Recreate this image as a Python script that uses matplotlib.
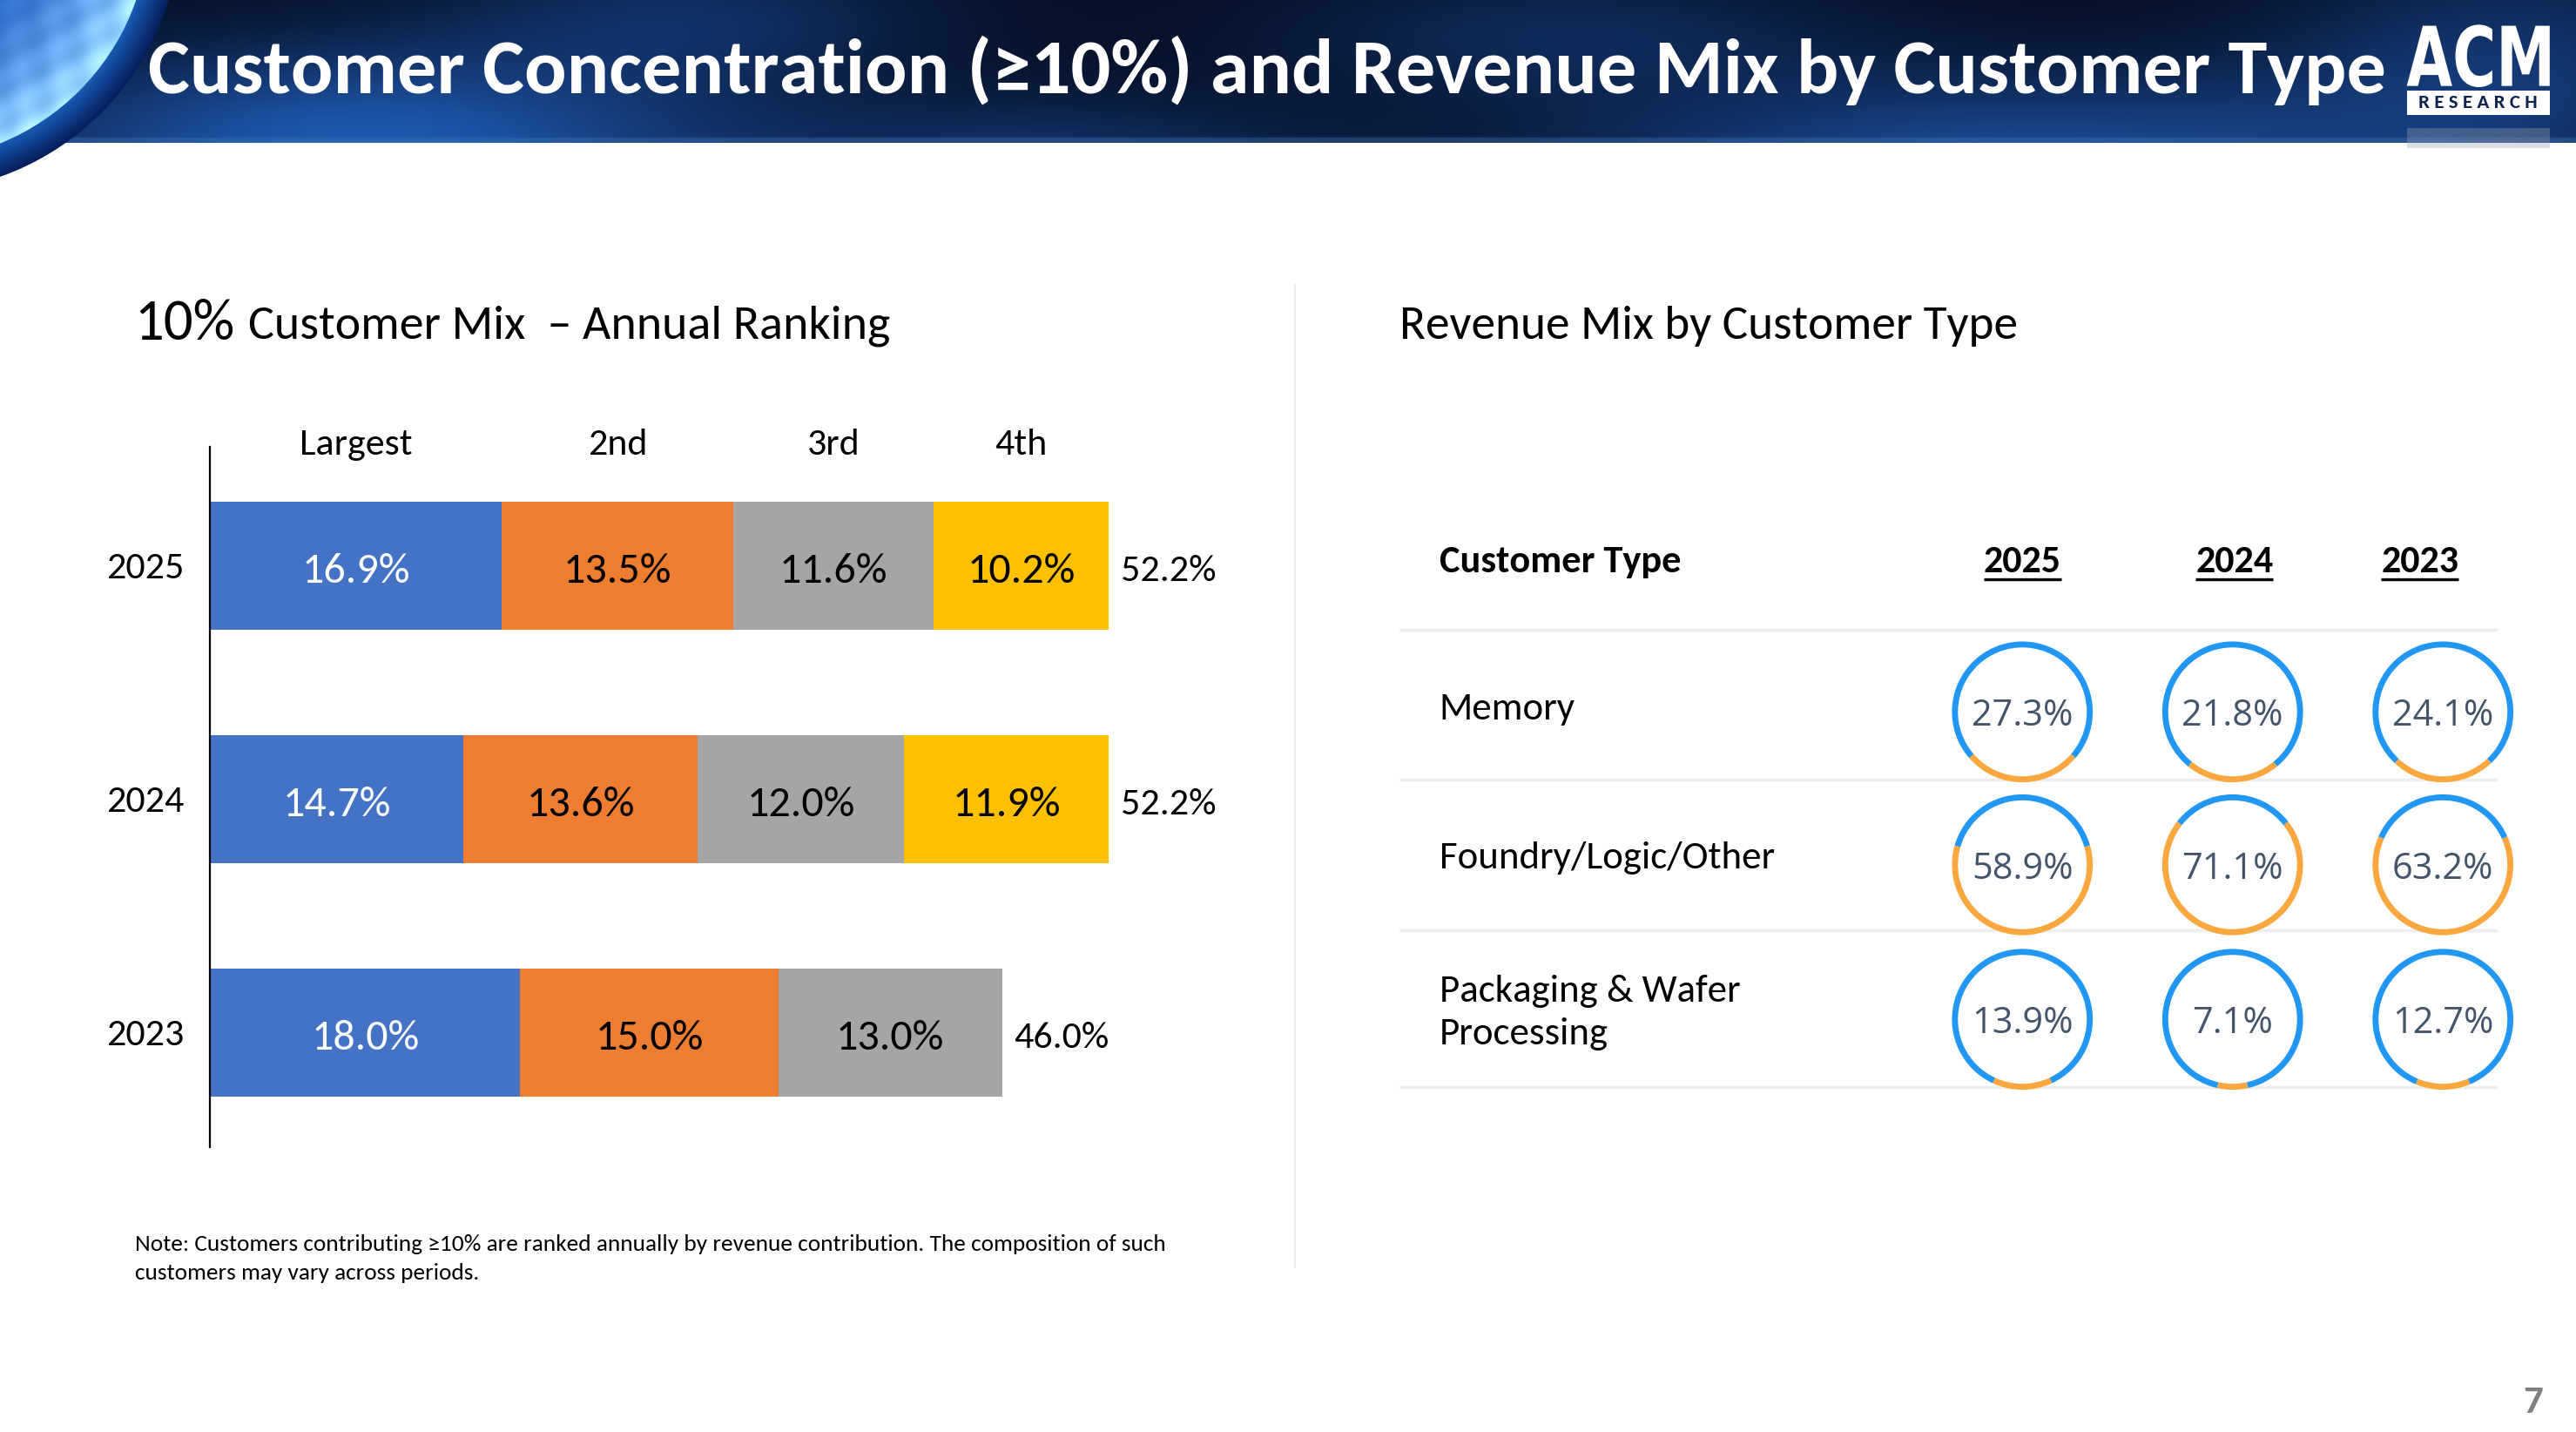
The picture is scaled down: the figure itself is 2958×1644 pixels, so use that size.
import numpy as np
import matplotlib
matplotlib.use('Agg')
import matplotlib.pyplot as plt
from matplotlib import font_manager
from matplotlib.patches import Circle, Rectangle, PathPatch
from matplotlib.textpath import TextPath
from matplotlib.font_manager import FontProperties
from matplotlib.transforms import Affine2D

# ---- data: 10% customer ranking ----
bar_years = ['2025', '2024', '2023']
rank_labels = ['Largest', '2nd', '3rd', '4th']
largest = [16.9, 14.7, 18.0]
second = [13.5, 13.6, 15.0]
third = [11.6, 12.0, 13.0]
fourth = [10.2, 11.9, 0.0]      # 2023 had only three 10% customers
totals = [52.2, 52.2, 46.0]

# ---- data: revenue mix by customer type ----
mix_years = ['2025', '2024', '2023']
customer_types = ['Memory', 'Foundry/Logic/Other', 'Packaging & Wafer\nProcessing']
memory = [27.3, 21.8, 24.1]
foundry = [58.9, 71.1, 63.2]
packaging = [13.9, 7.1, 12.7]

title = 'Customer Concentration (\u226510%) and Revenue Mix by Customer Type'
note_1 = ('Note: Customers contributing \u226510% are ranked annually by revenue contribution. '
          'The composition of such')
note_2 = 'customers may vary across periods.'

BAR_COLORS = ['#4472C4', '#ED7D31', '#A5A5A5', '#FFC000']
RING_ORANGE = '#F9A73E'
RING_BLUE = '#2196F3'

names = {f.name for f in font_manager.fontManager.ttflist}
BODY = 'Carlito' if 'Carlito' in names else 'Lato'
K = 1.0 if BODY == 'Carlito' else 0.9
plt.rcParams['font.family'] = [BODY, 'DejaVu Sans']

# layout is done in slide pixels (1568 x 871), scaled to the output
W, H = 1568, 871
OUT_W = 2958
PT = OUT_W / W * 72 / 100   # points per slide pixel

fig = plt.figure(figsize=(29.58, 16.44), dpi=100)
fig.patch.set_facecolor('white')


def box(x0, y0, w, h, z=2):
    a = fig.add_axes([x0 / W, 1 - (y0 + h) / H, w / W, h / H])
    a.set_zorder(z)
    a.patch.set_alpha(0)
    return a


def fit(txt, width):
    r = fig.canvas.get_renderer()
    w = txt.get_window_extent(r).width / (OUT_W / W)
    txt.set_fontsize(txt.get_fontsize() * width / w)


bg = fig.add_axes([0, 0, 1, 1])
bg.set_zorder(0)
bg.axis('off')

# header band
hx = np.linspace(0, W, 700)
hy = np.linspace(0, 87, 80)
X, Y = np.meshgrid(hx, hy)


def blob(cx, cy, sx, sy):
    return np.exp(-((X - cx) / sx) ** 2 - ((Y - cy) / sy) ** 2)


glow = (1.0 * blob(220, 90, 230, 60) + 0.8 * blob(1230, 100, 280, 55)
        + 0.45 * blob(640, 100, 160, 40) + 0.5 * blob(1530, 40, 150, 70)
        + 0.35 * blob(950, 20, 180, 40) + 0.4 * blob(420, 10, 150, 40))
base = np.array([0.02, 0.05, 0.13])
tint = np.array([0.10, 0.30, 0.56])
img = base + glow[..., None] * tint
img[-3:] = img[-3:] * 0.6 + np.array([0.25, 0.45, 0.7]) * 0.4
bg.imshow(np.clip(img, 0, 1), extent=(0, W, 87, 0), aspect='auto', zorder=1)

# globe in the corner: dark halo plus bright earth
gx = np.linspace(-240, 130, 370)
gy = np.linspace(-230, 140, 370)
GX, GY = np.meshgrid(gx, gy)
dist = np.hypot(GX + 55, GY + 48)
halo_r, earth_r = 165, 146
hr = np.clip((dist - earth_r) / (halo_r - earth_r), 0, 1)
himg = np.array([0.10, 0.36, 0.72]) * (1 - hr[..., None]) + np.array([0.02, 0.12, 0.36]) * hr[..., None]
halo = bg.imshow(himg, extent=(-240, 130, 140, -230), aspect='auto', zorder=2)
halo.set_clip_path(Circle((-55, -48), halo_r, transform=bg.transData))

er = np.clip(dist / earth_r, 0, 1)
streak = 0.5 + 0.5 * np.sin(GX * 0.21 + GY * 0.13) * np.cos(GY * 0.17 - GX * 0.05)
inner = np.array([0.10, 0.35, 0.75])
edge = np.array([0.55, 0.80, 0.98])
eimg = inner + (edge - inner) * (er[..., None] ** 3)
eimg = eimg + 0.18 * streak[..., None] * er[..., None] ** 2
earth = bg.imshow(np.clip(eimg, 0, 1), extent=(-240, 130, 140, -230), aspect='auto', zorder=3)
earth.set_clip_path(Circle((-55, -48), earth_r, transform=bg.transData))

bg.set_xlim(0, W)
bg.set_ylim(H, 0)

t = bg.text(90, 39, title, color='white', fontweight='bold', fontsize=40,
            va='center_baseline', ha='left', zorder=5)
fit(t, 1360)

# logo
tp = TextPath((0, 0), 'ACM', size=1, prop=FontProperties(family='DejaVu Sans', weight='bold'))
bb = tp.get_extents()
tr = (Affine2D().translate(-bb.x0, -bb.y0)
      .scale(87 / bb.width, -38 / bb.height).translate(1465, 53))
bg.add_patch(PathPatch(tr.transform_path(tp), facecolor='white', edgecolor='none', zorder=5))
bg.add_patch(Rectangle((1465, 55), 87, 15, facecolor='white', edgecolor='none', zorder=5))
r_txt = bg.text(1508.5, 62.5, 'R E S E A R C H', color='#0d2350', fontweight='bold',
                fontsize=8, ha='center', va='center', zorder=6)
fit(r_txt, 72)
bg.add_patch(Rectangle((1465, 78), 87, 12, facecolor='#9aa3b0', alpha=0.35,
                       edgecolor='none', zorder=5))

# section titles
t = bg.text(82, 194, '10%', fontsize=30, va='center_baseline', ha='left')
fit(t, 61)
t = bg.text(151, 196, 'Customer Mix  \u2013 Annual Ranking', fontsize=30,
            va='center_baseline', ha='left')
fit(t, 390)
t = bg.text(852, 196, 'Revenue Mix by Customer Type', fontsize=30,
            va='center_baseline', ha='left')
fit(t, 376)

t = bg.text(82, 756, note_1, fontsize=14, va='center_baseline', ha='left')
fit(t, 633)
t = bg.text(82, 773, note_2, fontsize=14, va='center_baseline', ha='left')
fit(t, 211)

bg.plot([788, 788], [173, 771], color='#E6E6E6', lw=1.2, zorder=1)
bg.text(1542, 851, '7', color='#7F7F7F', fontweight='bold', fontsize=24 * K * PT,
        ha='center', va='center_baseline')

# ---- stacked bar chart ----
px_per = (675 - 128) / totals[0]
ax = box(128, 272, 60 * px_per, 426)
ypos = np.arange(len(bar_years))
segments = [largest, second, third, fourth]
left = np.zeros(len(bar_years))
for k, vals in enumerate(segments):
    vals = np.array(vals)
    ax.barh(ypos, vals, left=left, height=0.549, color=BAR_COLORS[k], edgecolor='none')
    for i, v in enumerate(vals):
        if v > 0:
            ax.text(left[i] + v / 2, ypos[i] + 0.01, f'{v:.1f}%', ha='center',
                    va='center_baseline', color='white' if k == 0 else 'black',
                    fontsize=26.5 * K * PT)
    # rank names sit over the 2025 row
    ax.text(left[0] + vals[0] / 2, -0.53, rank_labels[k], ha='center',
            va='center_baseline', fontsize=23.3 * K * PT, clip_on=False)
    left = left + vals

for i, tot in enumerate(totals):
    ax.annotate(f'{tot:.1f}%', (tot, ypos[i] + 0.01), xytext=(7 * PT, 0),
                textcoords='offset points', ha='left', va='center_baseline',
                fontsize=23.3 * K * PT)

ax.set_xlim(0, 60)
ax.set_ylim(2.493, -0.507)
ax.set_xticks([])
ax.set_yticks(ypos, bar_years)
ax.tick_params(axis='y', length=0, pad=16 * PT, labelsize=23.3 * K * PT)
for s in ['top', 'right', 'bottom']:
    ax.spines[s].set_visible(False)
ax.spines['left'].set_linewidth(1.6)
ax.spines['left'].set_color('black')

# ---- revenue mix table ----
ring_x = [1231, 1359, 1487]
year_x = [1231, 1360, 1473]
row_y = [433, 526, 620]
label_y = [431, 522, 616]
for yy in [383, 474, 566, 661]:
    bg.plot([852, 1520], [yy, yy], color='#ECEDEF', lw=2.5, zorder=1,
            solid_capstyle='butt')

bg.text(876, 340, 'Customer Type', fontweight='bold', fontsize=23.5 * K * PT,
        va='center_baseline', ha='left')
rend = fig.canvas.get_renderer()
for cx, yr in zip(year_x, mix_years):
    t = bg.text(cx, 340, yr, fontweight='bold', fontsize=23.3 * K * PT,
                va='center_baseline', ha='center')
    ext = t.get_window_extent(rend)
    x0, _ = bg.transData.inverted().transform((ext.x0, ext.y0))
    x1, _ = bg.transData.inverted().transform((ext.x1, ext.y0))
    bg.plot([x0, x1], [352.5, 352.5], color='black', lw=2.4, solid_capstyle='butt')

for ly, name in zip(label_y, customer_types):
    bg.text(876, ly, name, fontsize=23.8 * K * PT, va='center', ha='left',
            linespacing=1.35)

mix_rows = [memory, foundry, packaging]
for r, vals in enumerate(mix_rows):
    for c, v in enumerate(vals):
        dax = box(ring_x[c] - 45, row_y[r] - 45, 90, 90, z=3)
        dax.pie([v, 100 - v], colors=[RING_ORANGE, RING_BLUE], startangle=270 - v * 1.8,
                counterclock=True, radius=1, wedgeprops=dict(width=0.085, edgecolor='none'))
        dax.set_xlim(-1.05, 1.05)
        dax.set_ylim(-1.05, 1.05)
        dax.text(0, 0, f'{v:.1f}%', ha='center', va='center_baseline', color='#44546A',
                 fontsize=22 * PT, family=['Open Sans', 'DejaVu Sans'])

fig.savefig('out.png', dpi=100, facecolor='white')
